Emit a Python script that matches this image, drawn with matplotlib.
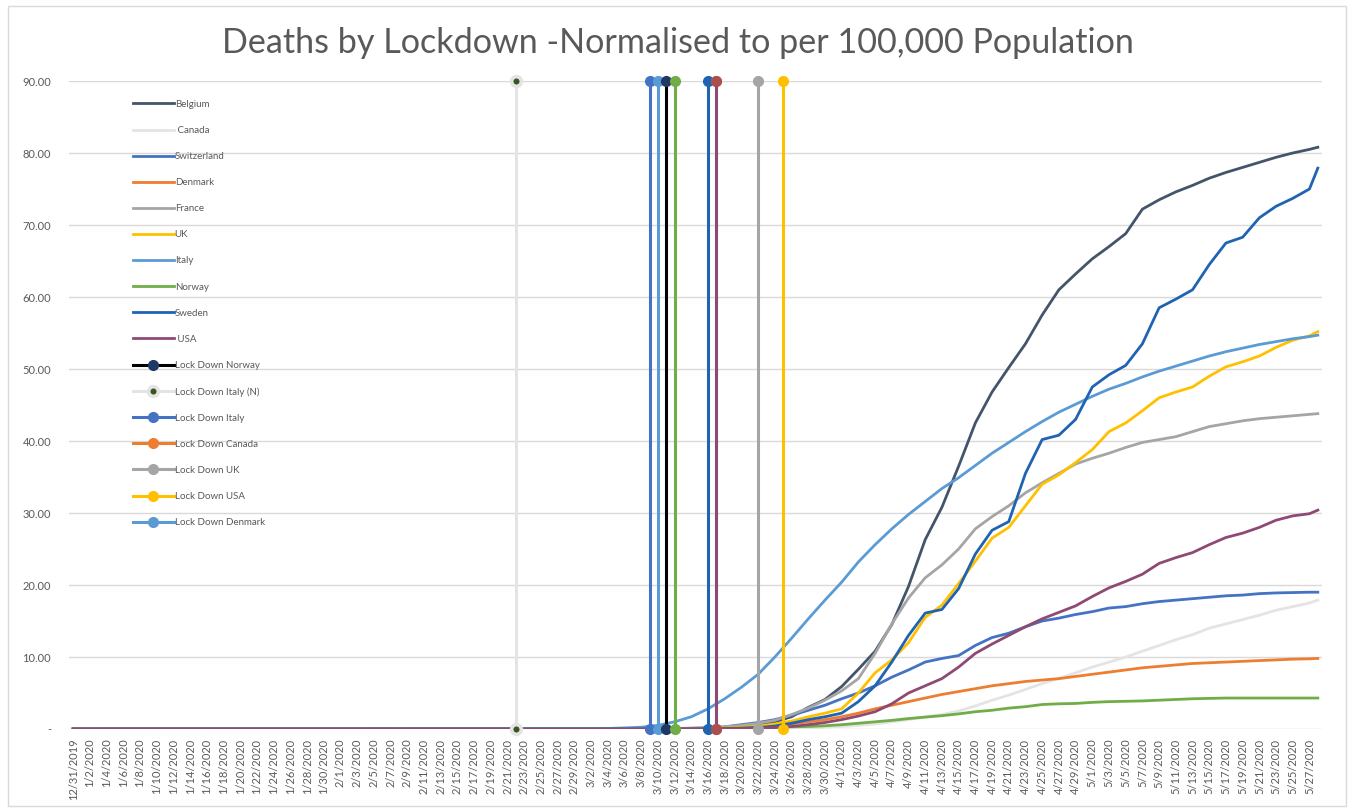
import pandas as pd
import matplotlib
matplotlib.use("Agg")
import matplotlib.pyplot as plt
from matplotlib.patches import Rectangle

plt.rcParams['font.family'] = ['Lato', 'DejaVu Sans']

# ---- data (deaths per 100,000 population) ----
start = "2019-12-31"   # all series sit at 0 from here until 3/2
dates = ["2020-03-02", "2020-03-04", "2020-03-06", "2020-03-08", "2020-03-10",
         "2020-03-12", "2020-03-14", "2020-03-16", "2020-03-18", "2020-03-20",
         "2020-03-22", "2020-03-24", "2020-03-26", "2020-03-28", "2020-03-30",
         "2020-04-01", "2020-04-03", "2020-04-05", "2020-04-07", "2020-04-09",
         "2020-04-11", "2020-04-13", "2020-04-15", "2020-04-17", "2020-04-19",
         "2020-04-21", "2020-04-23", "2020-04-25", "2020-04-27", "2020-04-29",
         "2020-05-01", "2020-05-03", "2020-05-05", "2020-05-07", "2020-05-09",
         "2020-05-11", "2020-05-13", "2020-05-15", "2020-05-17", "2020-05-19",
         "2020-05-21", "2020-05-23", "2020-05-25", "2020-05-27", "2020-05-28"]

belgium = [0, 0, 0, 0, 0.03, 0.03, 0.04, 0.09, 0.15, 0.3,
           0.6, 1.0, 1.7, 3.0, 4.1, 5.9, 8.3, 10.8, 14.5, 19.8,
           26.3, 30.8, 36.5, 42.5, 46.8, 50.2, 53.5, 57.5, 61.0, 63.2,
           65.3, 67.0, 68.8, 72.2, 73.5, 74.6, 75.5, 76.5, 77.3, 78.0,
           78.7, 79.4, 80.0, 80.5, 80.8]
canada = [0, 0, 0, 0, 0, 0, 0, 0.01, 0.02, 0.03,
          0.05, 0.07, 0.1, 0.15, 0.25, 0.35, 0.5, 0.7, 1.0, 1.3,
          1.7, 2.0, 2.5, 3.2, 4.0, 4.7, 5.5, 6.3, 7.0, 7.8,
          8.6, 9.3, 10.0, 10.8, 11.6, 12.4, 13.1, 14.0, 14.6, 15.2,
          15.8, 16.5, 17.0, 17.5, 17.9]
switzerland = [0, 0, 0.01, 0.02, 0.03, 0.05, 0.1, 0.15, 0.3, 0.6,
               0.9, 1.3, 1.9, 2.6, 3.3, 4.2, 5.0, 6.0, 7.2, 8.2,
               9.3, 9.8, 10.2, 11.6, 12.7, 13.3, 14.2, 15.0, 15.4, 15.9,
               16.3, 16.8, 17.0, 17.4, 17.7, 17.9, 18.1, 18.3, 18.5, 18.6,
               18.8, 18.9, 18.95, 19.0, 19.0]
denmark = [0, 0, 0, 0, 0, 0.01, 0.02, 0.05, 0.07, 0.15,
           0.25, 0.5, 0.7, 1.0, 1.3, 1.7, 2.2, 2.8, 3.3, 3.8,
           4.3, 4.8, 5.2, 5.6, 6.0, 6.3, 6.6, 6.8, 7.0, 7.3,
           7.6, 7.9, 8.2, 8.5, 8.7, 8.9, 9.1, 9.2, 9.3, 9.4,
           9.5, 9.6, 9.7, 9.75, 9.8]
france = [0, 0, 0.01, 0.02, 0.04, 0.07, 0.12, 0.2, 0.3, 0.5,
          0.8, 1.2, 2.0, 2.9, 4.0, 5.3, 7.0, 10.5, 14.6, 18.2,
          21.0, 22.8, 25.0, 27.8, 29.5, 31.0, 32.8, 34.2, 35.5, 36.8,
          37.6, 38.3, 39.1, 39.8, 40.2, 40.6, 41.3, 42.0, 42.4, 42.8,
          43.1, 43.3, 43.5, 43.7, 43.8]
uk = [0, 0, 0, 0.005, 0.01, 0.015, 0.03, 0.08, 0.15, 0.25,
      0.4, 0.7, 1.1, 1.7, 2.2, 2.8, 5.0, 7.8, 9.6, 12.0,
      15.5, 17.2, 20.2, 23.3, 26.5, 28.0, 31.0, 34.0, 35.3, 37.0,
      38.8, 41.3, 42.5, 44.2, 46.0, 46.8, 47.5, 49.0, 50.3, 51.0,
      51.8, 53.0, 54.0, 54.6, 55.2]
italy = [0.03, 0.08, 0.15, 0.25, 0.5, 1.0, 1.7, 2.8, 4.2, 5.8,
         7.6, 10.0, 12.6, 15.3, 17.9, 20.4, 23.2, 25.6, 27.8, 29.8,
         31.6, 33.4, 34.9, 36.6, 38.3, 39.8, 41.3, 42.7, 44.0, 45.1,
         46.2, 47.2, 48.0, 48.9, 49.7, 50.4, 51.1, 51.8, 52.4, 52.9,
         53.4, 53.8, 54.2, 54.5, 54.7]
norway = [0, 0, 0, 0, 0, 0.01, 0.02, 0.05, 0.1, 0.15,
          0.2, 0.25, 0.3, 0.35, 0.45, 0.6, 0.8, 1.0, 1.2, 1.45,
          1.65, 1.85, 2.1, 2.4, 2.6, 2.9, 3.1, 3.4, 3.5, 3.55,
          3.7, 3.8, 3.85, 3.9, 4.0, 4.1, 4.2, 4.25, 4.3, 4.3,
          4.3, 4.3, 4.3, 4.3, 4.3]
sweden = [0, 0, 0, 0, 0, 0, 0.005, 0.01, 0.05, 0.1,
          0.2, 0.4, 0.8, 1.3, 1.7, 2.2, 3.8, 6.0, 9.3, 13.0,
          16.1, 16.6, 19.5, 24.3, 27.6, 28.8, 35.5, 40.2, 40.8, 43.0,
          47.5, 49.2, 50.5, 53.5, 58.5, 59.7, 61.0, 64.5, 67.5, 68.3,
          71.0, 72.6, 73.7, 75.0, 77.9]
usa = [0, 0, 0, 0, 0.01, 0.01, 0.02, 0.03, 0.05, 0.08,
       0.12, 0.2, 0.35, 0.6, 0.9, 1.3, 1.8, 2.4, 3.5, 5.0,
       6.0, 7.0, 8.6, 10.5, 11.8, 13.0, 14.2, 15.3, 16.2, 17.1,
       18.4, 19.6, 20.5, 21.5, 23.0, 23.8, 24.5, 25.6, 26.6, 27.2,
       28.0, 29.0, 29.6, 29.9, 30.4]

countries = ["Belgium", " Canada", "Switzerland", "Denmark", "France",
             "UK", "Italy", "Norway", "Sweden", " USA"]
country_values = [belgium, canada, switzerland, denmark, france,
                  uk, italy, norway, sweden, usa]
country_colors = ["#44546A", "#E4E4E4", "#4472C4", "#ED7D31", "#A5A5A5",
                  "#FFC000", "#5B9BD5", "#70AD47", "#1F63B3", "#8E4A72"]

# lockdown dates (vertical markers), label None = not in legend
lock_labels = ["Lock Down Italy (N)", "Lock Down Italy", "Lock Down Denmark",
               "Lock Down Norway", None, None, "Lock Down Canada", None,
               "Lock Down UK", "Lock Down USA"]
lock_dates = ["2020-02-22", "2020-03-09", "2020-03-10", "2020-03-11",
              "2020-03-12", "2020-03-16", "2020-03-17", "2020-03-17",
              "2020-03-22", "2020-03-25"]
lock_colors = ["#E4E4E4", "#4472C4", "#5B9BD5", "#000000", "#70AD47",
               "#1F63B3", "#ED7D31", "#8E4A72", "#A5A5A5", "#FFC000"]
lock_marker_face = ["#375623", "#4472C4", "#5B9BD5", "#1F3864", "#70AD47",
                    "#1F63B3", "#ED7D31", "#A9504F", "#A5A5A5", "#FFC000"]
lock_top = 90

tick_dates = pd.date_range("2019-12-31", "2020-05-27", freq="2D")
tick_labels = [f"{d.month}/{d.day}/{d.year}" for d in tick_dates]

# ---- plot ----
fig = plt.figure(figsize=(13.53, 8.10), dpi=100)
ax = fig.add_axes([69 / 1353, 1 - 729 / 810, 1253 / 1353, 648 / 810])

x = pd.to_datetime([start] + dates)
handles = {}
for name, vals, col in zip(countries, country_values, country_colors):
    h, = ax.plot(x, [0] + vals, color=col, lw=2.0, solid_joinstyle="round",
                 label=name, zorder=3)
    handles[name] = h

for lab, d, col, mfc in zip(lock_labels, lock_dates, lock_colors, lock_marker_face):
    dd = pd.to_datetime([d, d])
    if lab == "Lock Down Italy (N)":
        h, = ax.plot(dd, [0, lock_top], color=col, lw=2.2, marker="o", ms=7,
                     mfc=mfc, mec=col, mew=2.6, clip_on=False, zorder=4)
    else:
        h, = ax.plot(dd, [0, lock_top], color=col, lw=2.2, marker="o", ms=7,
                     mfc=mfc, mec=mfc, clip_on=False, zorder=4)
    if lab:
        handles[lab] = h

ax.set_xlim(pd.Timestamp("2019-12-31") - pd.Timedelta(hours=12),
            pd.Timestamp("2020-05-28") + pd.Timedelta(hours=12))
ax.set_ylim(0, 90)
ax.set_yticks(range(0, 91, 10))
ax.set_yticklabels(["-"] + [f"{v:.2f}" for v in range(10, 91, 10)])
ax.set_xticks(tick_dates)
ax.set_xticklabels(tick_labels, rotation=90)
ax.tick_params(axis="both", length=0, colors="#595959", labelsize=8)
ax.tick_params(axis="y", pad=13)
ax.tick_params(axis="x", pad=7)
ax.grid(axis="y", color="#D9D9D9", lw=1)
ax.set_axisbelow(True)
for s in ax.spines.values():
    s.set_visible(False)

order = ["Belgium", " Canada", "Switzerland", "Denmark", "France", "UK",
         "Italy", "Norway", "Sweden", " USA", "Lock Down Norway",
         "Lock Down Italy (N)", "Lock Down Italy", "Lock Down Canada",
         "Lock Down UK", "Lock Down USA", "Lock Down Denmark"]
leg = ax.legend([handles[k] for k in order], order, loc="upper left",
                bbox_to_anchor=(0.051, 0.971), frameon=False, fontsize=7,
                labelspacing=1.76, handlelength=4.2, handletextpad=0.1,
                borderpad=0, borderaxespad=0, labelcolor="#595959")

fig.text(0.501, 0.947, "Deaths by Lockdown -Normalised to per 100,000 Population",
         ha="center", va="center", fontsize=24.6, color="#595959")

fig.patches.append(Rectangle((8 / 1353, 4 / 810), 1338 / 1353, 800 / 810,
                             transform=fig.transFigure, fill=False,
                             edgecolor="#D9D9D9", lw=1))

fig.savefig("out.png", dpi=100)
